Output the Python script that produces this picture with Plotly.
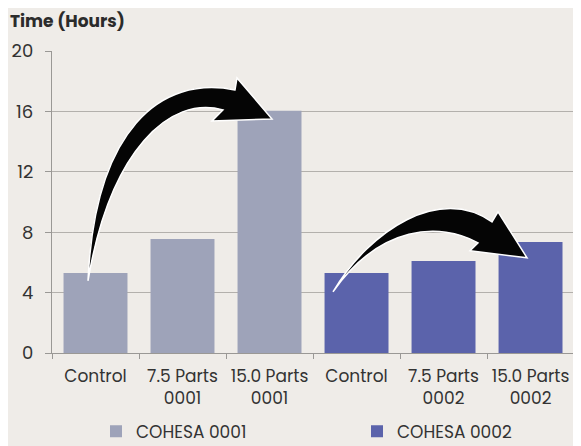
import plotly.graph_objects as go

# ---- data ----
cat_ids_0001 = ["c1", "p75_1", "p150_1"]
cat_ids_0002 = ["c2", "p75_2", "p150_2"]
tick_labels = ["Control", "7.5 Parts<br>0001", "15.0 Parts<br>0001",
               "Control", "7.5 Parts<br>0002", "15.0 Parts<br>0002"]
values_0001 = [5.3, 7.55, 16.05]
values_0002 = [5.3, 6.1, 7.35]
series_names = ["COHESA 0001", "COHESA 0002"]
y_ticks = [0, 4, 8, 12, 16, 20]

# the page renders the figure with an 8px body offset; work in screen pixels
OFF = 8
W, H = 581, 446
S_LEFT, S_RIGHT, S_TOP, S_BOTTOM = 52, 581, 51, 353.3  # plot area on screen
ML = S_LEFT - OFF
MT = S_TOP - OFF
MR = W - (S_RIGHT - OFF)
MB = H - (S_BOTTOM - OFF)
PW = S_RIGHT - S_LEFT
PH = S_BOTTOM - S_TOP

C1 = "#9ea3b9"
C2 = "#5b63ab"
BG = "#efece8"
FONT = "Poppins, Open Sans, sans-serif"


def px(x, y):
    return (x - S_LEFT) / PW, (S_BOTTOM - y) / PH


def path_from(points_cmds):
    out = []
    for cmd, pts in points_cmds:
        coords = []
        for (x, y) in pts:
            a, b = px(x, y)
            coords.append(f"{a:.5f},{b:.5f}")
        out.append(cmd + " " + " ".join(coords))
    return " ".join(out) + " Z"


fig = go.Figure()
fig.add_trace(go.Bar(x=cat_ids_0001, y=values_0001, name=series_names[0],
                     marker=dict(color=C1, line=dict(width=0))))
fig.add_trace(go.Bar(x=cat_ids_0002, y=values_0002, name=series_names[1],
                     marker=dict(color=C2, line=dict(width=0))))

arrow1 = path_from([
    ("M", [(88, 281)]),
    ("C", [(95, 130), (160, 75), (235, 90)]),
    ("L", [(237, 78)]),
    ("L", [(272, 119)]),
    ("L", [(212, 121)]),
    ("L", [(223, 110)]),
    ("C", [(170, 95), (110, 150), (88, 281)]),
])
arrow2 = path_from([
    ("M", [(333, 292)]),
    ("C", [(370, 230), (440, 185), (492, 222)]),
    ("L", [(498, 212)]),
    ("L", [(527, 258)]),
    ("L", [(470, 251)]),
    ("L", [(478, 243)]),
    ("C", [(440, 222), (380, 225), (333, 292)]),
])

shapes = []
for p in (arrow1, arrow2):
    shapes.append(dict(type="path", path=p, xref="paper", yref="paper",
                       fillcolor="#050505", line=dict(color="white", width=1.5),
                       layer="above"))

fig.update_layout(
    width=W, height=H,
    margin=dict(l=ML, r=MR, t=MT, b=MB, pad=0, autoexpand=False),
    paper_bgcolor=BG, plot_bgcolor=BG,
    font=dict(family=FONT, size=17, color="#333333"),
    barmode="overlay", bargap=0.265,
    title=dict(text="<b>Time (Hours)</b>", x=(10 - OFF) / W, xanchor="left",
               xref="container", y=1 - (21 - OFF) / H, yanchor="middle", yref="container",
               font=dict(family=FONT, size=17, color="#2b2b2b")),
    xaxis=dict(
        categoryorder="array", categoryarray=cat_ids_0001 + cat_ids_0002,
        tickmode="array", tickvals=cat_ids_0001 + cat_ids_0002, ticktext=tick_labels,
        tickson="boundaries", ticks="outside", ticklen=5, tickcolor="#9a9895",
        showline=True, linecolor="#9a9895", linewidth=1.3,
        showgrid=False, range=[-0.5, 5.58], automargin=False,
        ticklabelstandoff=7,
        tickfont=dict(family=FONT, size=17, color="#333333"),
    ),
    yaxis=dict(
        range=[0, 20], tickmode="array", tickvals=y_ticks,
        ticks="outside", ticklen=6, tickcolor="#9a9895",
        showline=True, linecolor="#9a9895", linewidth=1.3,
        showgrid=True, gridcolor="#b3b0ac", gridwidth=1.3,
        zeroline=False, ticklabelstandoff=8, automargin=False,
        tickfont=dict(family=FONT, size=18, color="#333333"),
    ),
    legend=dict(orientation="h", x=(96 - S_LEFT) / PW, xanchor="left",
                y=-(414 - S_BOTTOM) / PH, yanchor="top",
                entrywidth=216, entrywidthmode="pixels",
                font=dict(family=FONT, size=17, color="#333333"),
                bgcolor="rgba(0,0,0,0)"),
    shapes=shapes,
    showlegend=True,
)

fig.write_html("out.html")
